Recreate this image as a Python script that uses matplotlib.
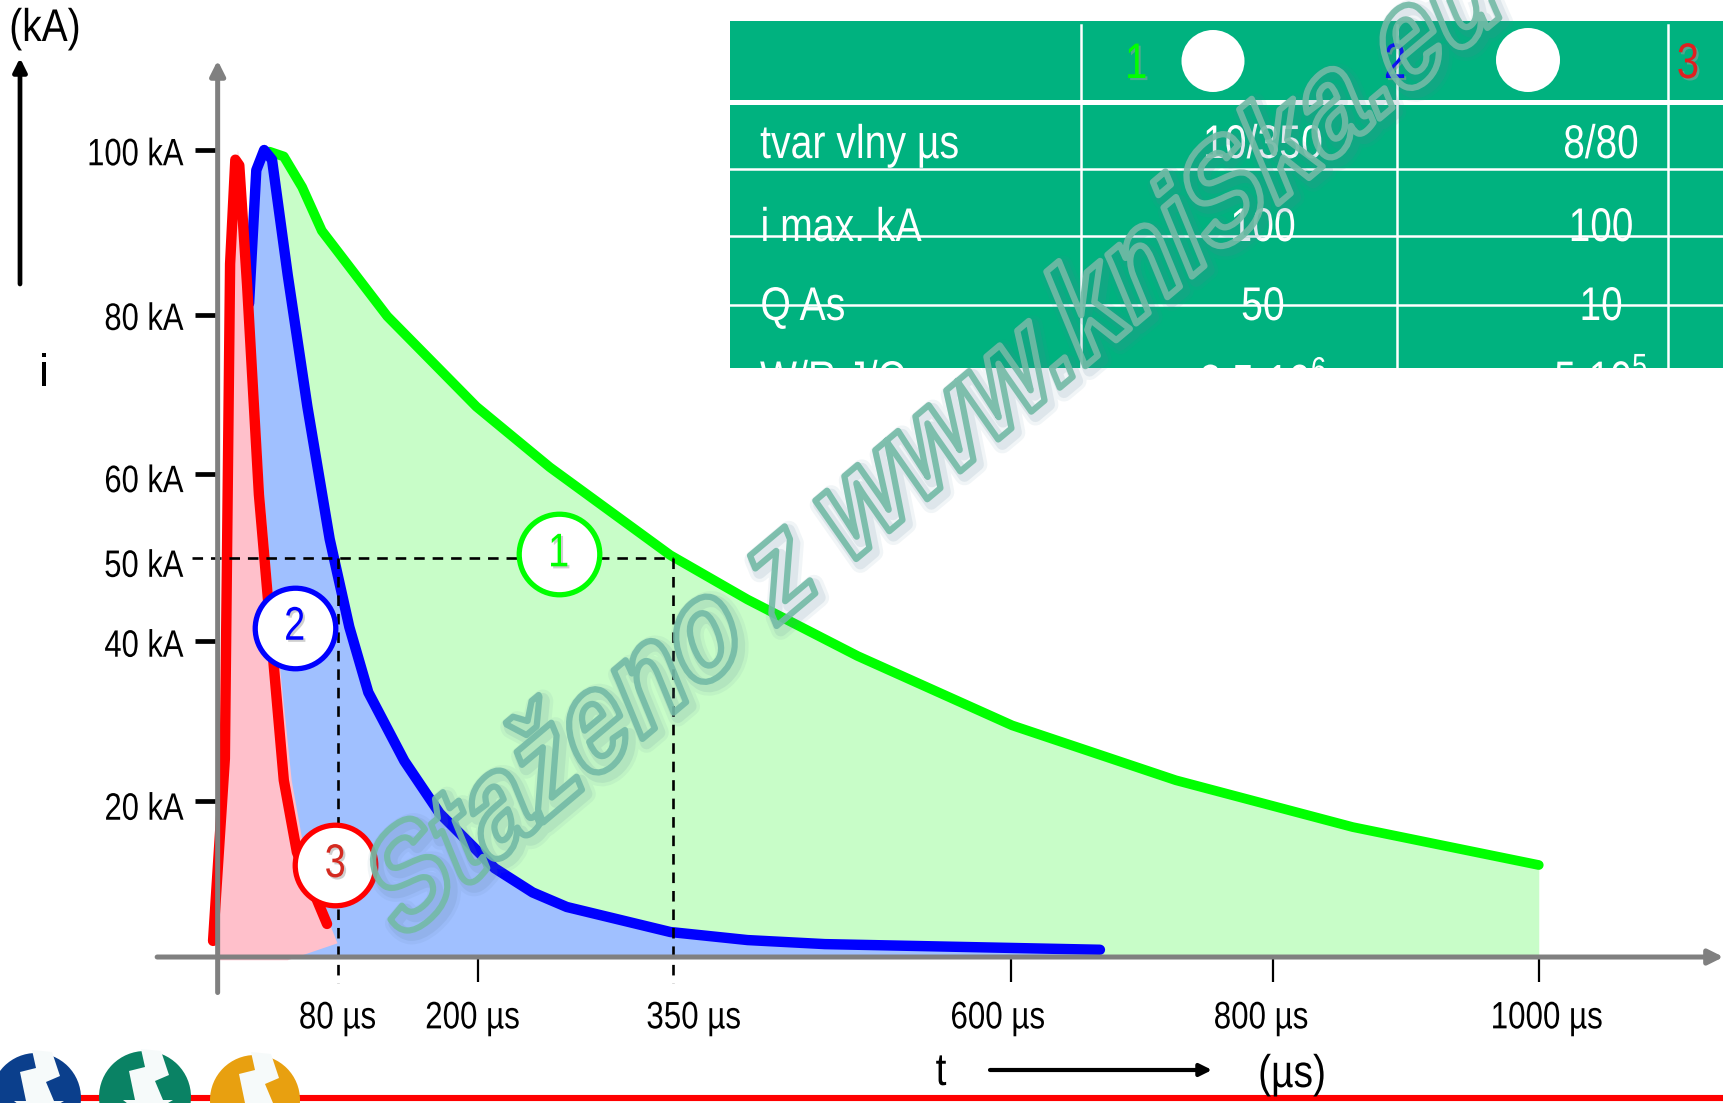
# -*- coding: utf-8 -*-
"""
Lightning current waveforms 10/350, 8/80 with the table and watermark
"""
import matplotlib
matplotlib.use('Agg')
import matplotlib.pyplot as plt
import matplotlib.patheffects as pe
from matplotlib.patches import Rectangle, Ellipse, Circle, Polygon
from matplotlib.transforms import Affine2D

plt.rcParams['font.family'] = ['Liberation Sans', 'DejaVu Sans']
plt.rcParams['mathtext.default'] = 'regular'

# curves, time in us and current in kA
green_t = [40, 51, 65, 80, 130, 198, 254, 346, 405, 489, 607, 732, 867, 1009]
green_i = [99.8, 99.2, 95.4, 90, 79.4, 68.2, 60.7, 49.8, 44.3, 37.3, 28.7, 21.9, 16.1, 11.4]
blue_t = [0, 17, 24.5, 30, 36, 42, 54, 69, 86, 101, 115.5, 143, 170, 212, 241, 267, 346, 405, 464, 674]
blue_i = [0.4, 64, 81, 97.5, 100, 98.8, 84.5, 68.2, 51.8, 40.9, 32.8, 24.3, 17.8, 11, 8, 6.2, 3.1, 2.1, 1.6, 0.9]
red_t = [-3, 6, 10, 14, 17, 23, 32, 40, 51, 61, 84]
red_i = [2, 24.6, 85.9, 98.8, 98.1, 83.2, 57.3, 42.3, 21.9, 13, 4.1]
pink_t = [0, 5.5, 9, 16, 26, 36, 44, 57, 69, 92, 54]
pink_i = [-0.4, 24.6, 85.9, 100, 83.2, 57.3, 42.3, 21.9, 11, 1.7, -0.4]

# axis ticks and labels where they sit in the picture
y_tick_pos = [100.06, 79.5, 59.9, 39.2, 19.3]
y_labels = ['100 kA', '80 kA', '60 kA', '50 kA', '40 kA', '20 kA']
y_label_pos = [99.35, 78.95, 58.85, 48.35, 38.45, 18.25]
x_tick_pos = [199, 606, 806, 1009]
x_labels = ['80 µs', '200 µs', '350 µs', '600 µs', '800 µs', '1000 µs']
x_label_pos = [92, 195, 364, 596, 797, 1015]

# table
row_names = ['tvar vlny µs', 'i max. kA', 'Q As', 'W/R J/Ω']
col1 = ['10/350', '100', '50', '2,5·10$^6$']
col2 = ['8/80', '100', '10', '5·10$^5$']
row_y = [146, 229, 308, 382]

GREEN = '#00ff00'
BLUE = '#0000ff'
RED = '#ff0000'
GRAY = '#808080'
TABLE = '#00b27f'


class Squeeze(pe.AbstractPathEffect):
    # the source picture is squeezed sideways, so squeeze the text path too
    def __init__(self, sx, anchor='center', inner=None):
        super().__init__()
        self.sx = sx
        self.anchor = anchor
        self.inner = inner

    def draw_path(self, renderer, gc, tpath, affine, rgbFace=None):
        box = tpath.get_extents(affine)
        x0 = {'left': box.x0, 'center': (box.x0 + box.x1) / 2, 'right': box.x1}[self.anchor]
        new = affine + Affine2D().translate(-x0, 0).scale(self.sx, 1).translate(x0, 0)
        if self.inner is None:
            renderer.draw_path(gc, tpath, new, rgbFace)
        else:
            for eff in self.inner:
                eff.draw_path(renderer, gc, tpath, new, rgbFace)


fig = plt.figure(figsize=(17.24, 11.03), dpi=100)
ax = fig.add_axes([0, 0, 1, 1])
ax.set_xlim(-165.65, 1150.4)
ax.set_ylim(-18.09, 118.59)
ax.patch.set_alpha(0)
for s in ax.spines.values():
    s.set_visible(False)
ax.spines['left'].set_position(('data', 0))
ax.spines['bottom'].set_position(('data', 0))

ax.fill_between(green_t, green_i, 0, color='#c8fdc8', lw=0, zorder=1)
ax.fill_between(blue_t, blue_i, 0, color='#a0c0ff', lw=0, zorder=2)
ax.fill(pink_t, pink_i, color='#ffc0cb', lw=0, zorder=3)

ax.plot(green_t, green_i, color=GREEN, lw=7, solid_capstyle='round', solid_joinstyle='round', zorder=4)
ax.plot(blue_t[2:], blue_i[2:], color=BLUE, lw=7.5, solid_capstyle='round', solid_joinstyle='round', zorder=5)
ax.plot(red_t, red_i, color=RED, lw=7.5, solid_capstyle='round', solid_joinstyle='round', zorder=6)

# dashed help lines
ax.plot([-18.8, 348], [49.4, 49.4], color='k', lw=1.9, ls=(0, (4, 3)), zorder=7)
ax.plot([92, 92], [49.4, -3.2], color='k', lw=1.9, ls=(0, (4, 3)), zorder=7)
ax.plot([348, 348], [49.4, -3.2], color='k', lw=1.9, ls=(0, (4, 3)), zorder=7)

# axes
ax.annotate('', xy=(0.5, 111.1), xytext=(0.5, -4.4), zorder=9,
            arrowprops=dict(arrowstyle='-|>', color=GRAY, lw=3.6, mutation_scale=22, shrinkA=0, shrinkB=0))
ax.annotate('', xy=(1150, 0), xytext=(-45.7, 0), zorder=9,
            arrowprops=dict(arrowstyle='-|>', color=GRAY, lw=3.6, mutation_scale=22, shrinkA=0, shrinkB=0))
ax.set_yticks(y_tick_pos, [''] * len(y_tick_pos))
ax.set_xticks(x_tick_pos, [''] * len(x_tick_pos))
ax.tick_params(axis='y', length=16, width=3.4, color='k')
ax.tick_params(axis='x', length=18, width=1.6, color='k')
for lab, pos in zip(y_labels, y_label_pos):
    ax.text(-25.5, pos, lab, ha='right', va='center', fontsize=27.5, path_effects=[Squeeze(0.81, 'right')])
for lab, pos in zip(x_labels, x_label_pos):
    ax.text(pos, -7.6, lab, ha='center', va='center', fontsize=27.5, path_effects=[Squeeze(0.82)])


def digit_fx():
    return [Squeeze(0.8, 'center', [pe.SimplePatchShadow(offset=(1.5, -1.5), shadow_rgbFace='#a0a0a0', alpha=0.5), pe.Normal()])]


# numbered circles
for num, t, i, col, tcol in [('1', 260.7, 49.9, GREEN, GREEN), ('2', 59.3, 40.8, BLUE, BLUE), ('3', 90.3, 11.4, RED, '#d42a20')]:
    ax.plot([t], [i], 'o', ms=58, mfc='w', mec=col, mew=3.8, zorder=8)
    ax.text(t, i, num, color=tcol, ha='center', va='center', fontsize=34, zorder=8.5, path_effects=digit_fx())

# second layer in picture pixels: table, side labels, logos, watermark
top = fig.add_axes([0, 0, 1, 1], zorder=2)
top.set_xlim(0, 1724)
top.set_ylim(1103, 0)
top.axis('off')

box = Rectangle((730, 21), 994, 347, color=TABLE, lw=0, zorder=1)
top.add_patch(box)
top.plot([730, 1724], [102, 102], color='w', lw=3.6, zorder=2)
for y in [169, 236, 305]:
    top.plot([730, 1724], [y, y], color='w', lw=1.8, zorder=2)
for x in [1081.5, 1397, 1668.5]:
    top.plot([x, x], [25, 368], color='w', lw=1.8, zorder=2)
top.add_patch(Ellipse((1213, 61), 63, 62, color='w', lw=0, zorder=3))
top.add_patch(Ellipse((1528, 60), 64, 64, color='w', lw=0, zorder=3))
for num, x, col in [('1', 1136, GREEN), ('2', 1395, BLUE), ('3', 1688, '#e02020')]:
    top.text(x, 65, num, color=col, ha='center', va='center', fontsize=36, zorder=3, path_effects=digit_fx())
for name, a, b, y in zip(row_names, col1, col2, row_y):
    for txt, x, ha, sx in [(name, 760, 'left', 0.83), (a, 1263, 'center', 0.83), (b, 1601, 'center', 0.82)]:
        t = top.text(x, y, txt, color='w', ha=ha, va='center', fontsize=34, zorder=3, path_effects=[Squeeze(sx, ha)])
        t.set_clip_path(box)

top.annotate('', xy=(20, 58), xytext=(20, 284), arrowprops=dict(arrowstyle='-|>', color='k', lw=3.4, mutation_scale=20, shrinkA=0, shrinkB=0))
top.annotate('', xy=(1212, 1070), xytext=(990, 1070), arrowprops=dict(arrowstyle='-|>', color='k', lw=3, mutation_scale=18, shrinkA=0, shrinkB=0))
for txt, x, y in [('(kA)', 45, 29), ('i', 44, 374), ('t', 941, 1073), ('(µs)', 1292, 1075)]:
    top.text(x, y, txt, ha='center', va='center', fontsize=33, path_effects=[Squeeze(0.85)])

# bottom line with the three logos
top.plot([0, 1724], [1097.5, 1097.5], color=RED, lw=4.4, solid_capstyle='butt', zorder=2)
bolt = [(-4, -48), (16, -46), (24, -22), (10, -16), (18, 3), (28, 3), (0, 20), (-22, 3), (-10, 3), (-16, -26), (0, -30)]
for cx, cy, r, col in [(36, 1098, 45, '#0b3f8c'), (145, 1097, 46, '#0a8264'), (255, 1100, 45, '#e8a010')]:
    top.add_patch(Circle((cx, cy), r, color=col, lw=0, zorder=3))
    top.add_patch(Polygon([(cx + px, cy + py) for px, py in bolt], color='#f6fafa', lw=0, zorder=4))

# hollow watermark, rotated and then squeezed with the rest of the picture
mark = top.text(408, 945, 'Staženo z www.kniSka.eu', rotation=30.5, rotation_mode='anchor',
                family='Liberation Sans', weight='bold', fontsize=109, ha='left', va='baseline', color=(1, 1, 1, 0), zorder=10)
mark.set_path_effects([Squeeze(0.70, 'left', [
    pe.Stroke(linewidth=14, foreground=(0.35, 0.5, 0.6, 0.08), offset=(3, -3)),
    pe.Stroke(linewidth=9, foreground=(0.35, 0.5, 0.6, 0.12), offset=(3, -3)),
    pe.Stroke(linewidth=4.5, foreground=(0.45, 0.73, 0.65, 0.9))])])

plt.savefig('out.png', dpi=100)
